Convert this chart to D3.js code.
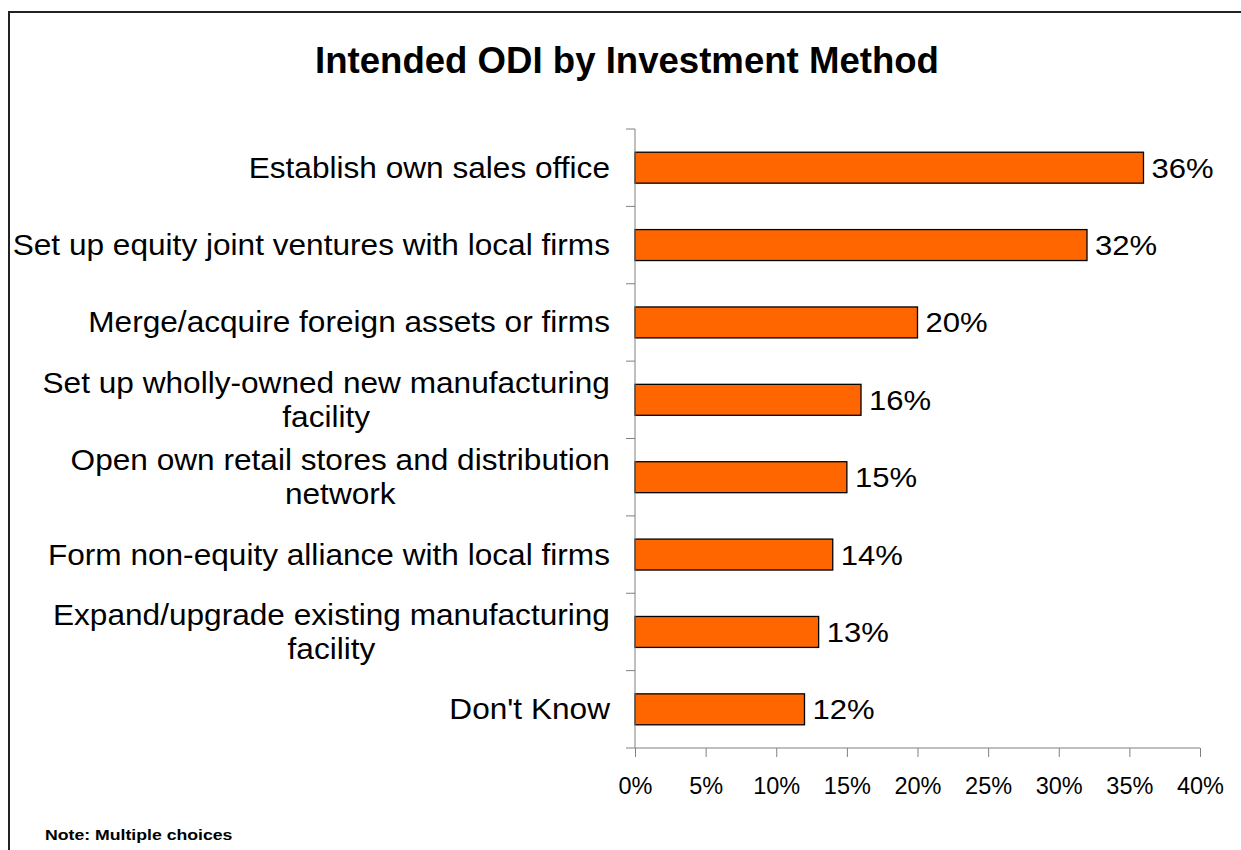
<!DOCTYPE html>
<html>
<head>
<meta charset="utf-8">
<script src="https://cdn.jsdelivr.net/npm/d3@7"></script>
<style>
  html, body { margin: 0; padding: 0; background: #fff; }
  svg { display: block; font-family: Arial, "Liberation Sans", sans-serif; }
</style>
</head>
<body>
<svg id="chart" width="1241" height="850"></svg>
<script>
// Survey responses: intended outward direct investment, by method (multiple choices)
const categories = [
  ["Establish own sales office"],
  ["Set up equity joint ventures with local firms"],
  ["Merge/acquire foreign assets or firms"],
  ["Set up wholly-owned new manufacturing", "facility"],
  ["Open own retail stores and distribution", "network"],
  ["Form non-equity alliance with local firms"],
  ["Expand/upgrade existing manufacturing", "facility"],
  ["Don't Know"]
];
const shares = [36, 32, 20, 16, 15, 14, 13, 12];
const xTicks = [0, 5, 10, 15, 20, 25, 30, 35, 40];

(function draw() {
  const svg = d3.select("#chart");
  const W = 1241, H = 850;
  const plotL = 635, plotR = 1200, plotT = 129, plotB = 748;
  const wide = 1.09;   // slight horizontal stretch of the label lettering

  // Outer frame (left and top edges)
  svg.append("path")
    .attr("d", `M9,${H} V12 H${W}`)
    .attr("fill", "none").attr("stroke", "#222").attr("stroke-width", 2);

  svg.append("text")
    .attr("x", 627).attr("y", 73)
    .attr("text-anchor", "middle")
    .attr("font-weight", "bold").attr("font-size", 36.6)
    .text("Intended ODI by Investment Method");

  const keys = categories.map((d, i) => i);
  const y = d3.scaleBand().domain(keys).range([plotT, plotB]).padding(0);
  const x = d3.scaleLinear().domain([0, 40]).range([plotL, plotR]);

  const step = y.step();
  const barH = step * 0.4;

  // Bars
  svg.append("g").selectAll("rect")
    .data(shares)
    .join("rect")
    .attr("x", x(0))
    .attr("y", (d, i) => y(i) + (step - barH) / 2)
    .attr("width", d => x(d) - x(0))
    .attr("height", barH)
    .attr("fill", "#FF6600")
    .attr("stroke", "#000")
    .attr("stroke-width", 1.3);

  // Value labels
  svg.append("g").selectAll("text")
    .data(shares)
    .join("text")
    .attr("transform", (d, i) => `translate(${x(d) + 8},${y(i) + step / 2 + 10}) scale(${wide},1)`)
    .attr("font-size", 28.5)
    .attr("fill", "#000")
    .text(d => d + "%");

  // Y axis: line with ticks on category boundaries
  const axisColor = "#808080";
  const yAxis = svg.append("g");
  yAxis.append("line")
    .attr("x1", plotL).attr("x2", plotL)
    .attr("y1", plotT).attr("y2", plotB)
    .attr("stroke", axisColor).attr("stroke-width", 1);
  const bounds = keys.map(k => y(k)).concat([plotB]);
  yAxis.selectAll("line.tick")
    .data(bounds)
    .join("line")
    .attr("class", "tick")
    .attr("x1", plotL - 9).attr("x2", plotL)
    .attr("y1", d => d).attr("y2", d => d)
    .attr("stroke", axisColor).attr("stroke-width", 1);

  // Category labels: each block centred, its widest line ending near the axis
  const lineH = 34.5;
  const labelRight = 610;
  const catG = svg.append("g");
  categories.forEach((lines, i) => {
    const cy = y(i) + step / 2;
    const t = catG.append("text")
      .attr("font-size", 29)
      .attr("fill", "#000")
      .attr("text-anchor", "middle");
    lines.forEach((ln, j) => {
      t.append("tspan")
        .attr("x", 0)
        .attr("y", 10 + (j - (lines.length - 1) / 2) * lineH)
        .text(ln);
    });
    const widths = [];
    t.selectAll("tspan").each(function () { widths.push(this.getComputedTextLength()); });
    const half = d3.max(widths) * wide / 2;
    t.attr("transform", `translate(${labelRight - half},${cy}) scale(${wide},1)`);
  });

  // X axis
  const xAxis = svg.append("g").attr("transform", `translate(0,${plotB})`)
    .call(d3.axisBottom(x).tickValues(xTicks).tickFormat(d => d + "%").tickSize(9).tickPadding(20));
  xAxis.select(".domain").attr("stroke", axisColor).attr("d", `M${plotL},0H${plotR}`);
  xAxis.selectAll(".tick line").attr("stroke", axisColor);
  xAxis.selectAll(".tick text")
    .attr("font-size", 23.5).attr("fill", "#000")
    .attr("font-family", "Arial, 'Liberation Sans', sans-serif")
    .attr("dy", "0.71em");

  svg.append("text")
    .attr("transform", "translate(45,840) scale(1.14,1)")
    .attr("font-weight", "bold").attr("font-size", 15.5)
    .text("Note: Multiple choices");
})();
</script>
</body>
</html>
